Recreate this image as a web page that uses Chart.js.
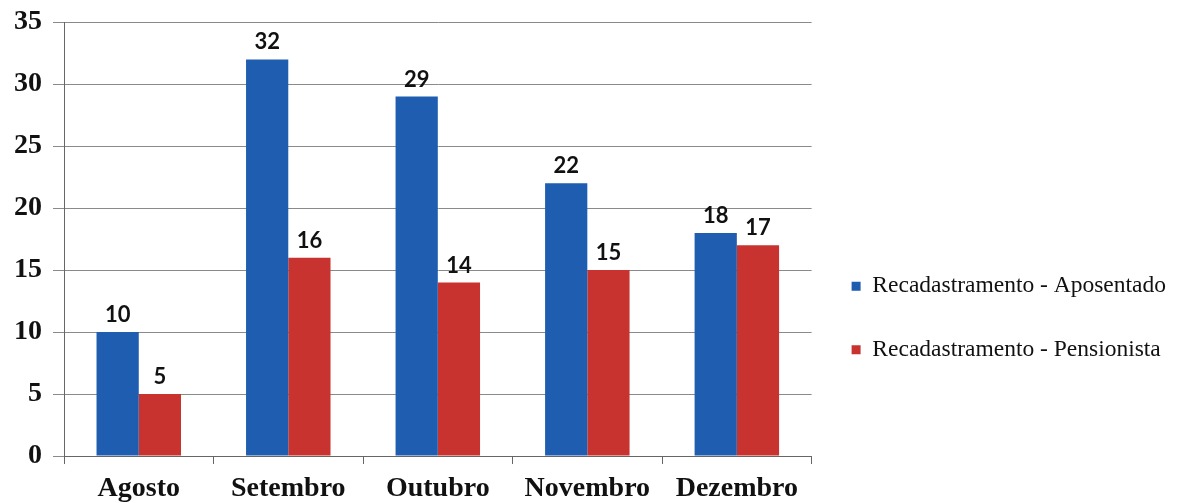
<!DOCTYPE html>
<html>
<head>
<meta charset="utf-8">
<script src="https://cdn.jsdelivr.net/npm/chart.js@4.4.1/dist/chart.umd.min.js"></script>
<style>
  html, body { margin: 0; padding: 0; background: #fff; }
  #wrap { width: 1196px; height: 503px; }
</style>
</head>
<body>
<div id="wrap"><canvas id="chart"></canvas></div>
<script>
const months = ['Agosto', 'Setembro', 'Outubro', 'Novembro', 'Dezembro'];
const aposentado = [10, 32, 29, 22, 18];
const pensionista = [5, 16, 14, 15, 17];
const seriesNames = ['Recadastramento - Aposentado', 'Recadastramento - Pensionista'];
const yTicks = [0, 5, 10, 15, 20, 25, 30, 35];

// values written above each bar
const valueLabels = {
    id: 'valueLabels',
    afterDatasetsDraw(chart) {
        const ctx = chart.ctx;
        ctx.save();
        ctx.font = 'bold 22px Lato, "Open Sans", sans-serif';
        ctx.fillStyle = '#111';
        ctx.textAlign = 'center';
        ctx.textBaseline = 'alphabetic';
        chart.data.datasets.forEach(function (ds, i) {
            chart.getDatasetMeta(i).data.forEach(function (bar, j) {
                ctx.fillText(ds.data[j], bar.x, bar.y - 10);
            });
        });
        ctx.restore();
    }
};

const serif = '"Liberation Serif", "Times New Roman", serif';

new Chart(document.getElementById('chart'), {
    type: 'bar',
    data: {
        labels: months,
        datasets: [{
            label: seriesNames[0],
            data: aposentado,
            backgroundColor: '#1f5db0'
        }, {
            label: seriesNames[1],
            data: pensionista,
            backgroundColor: '#c8332f'
        }]
    },
    options: {
        responsive: true,
        maintainAspectRatio: false,
        animation: false,
        categoryPercentage: 0.565,
        barPercentage: 1,
        // negative bottom lets the month names sit lower than the axis box allows
        layout: { padding: { top: 22, left: 3, right: 20, bottom: -11 } },
        plugins: {
            tooltip: { enabled: false },
            legend: {
                position: 'right',
                maxWidth: 420,
                title: { display: true, text: ' ', font: { size: 10 }, padding: 44 },
                labels: {
                    boxWidth: 9,
                    boxHeight: 9,
                    padding: 40,
                    color: '#111',
                    font: { family: serif, size: 23.5 }
                }
            }
        },
        scales: {
            x: {
                grid: { drawOnChartArea: false, tickLength: 8, color: '#666' },
                border: { color: '#666' },
                ticks: {
                    color: '#111',
                    padding: 17,
                    font: { family: serif, size: 28, weight: 'bold', lineHeight: 0.57 }
                }
            },
            y: {
                min: 0,
                max: 35,
                afterBuildTicks: function (axis) {
                    axis.ticks = yTicks.map(function (v) { return { value: v }; });
                },
                grid: { color: '#8a8a8a', tickLength: 11 },
                border: { color: '#666' },
                ticks: {
                    color: '#111',
                    padding: 11,
                    font: { family: serif, size: 28, weight: 'bold', lineHeight: 0.8 }
                }
            }
        }
    },
    plugins: [valueLabels]
});
</script>
</body>
</html>
